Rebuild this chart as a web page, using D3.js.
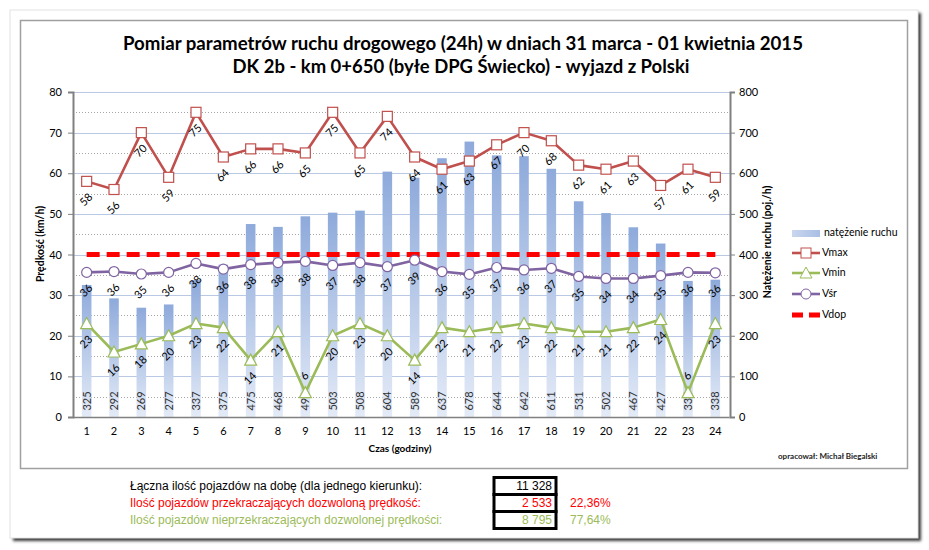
<!DOCTYPE html>
<html>
<head>
<meta charset="utf-8">
<script src="https://cdn.jsdelivr.net/npm/d3@7"></script>
<style>
  html, body { margin: 0; padding: 0; background: #ffffff; }
  svg { display: block; }
</style>
</head>
<body>
<svg id="chart" width="929" height="550"></svg>
<script>
// ---------- DATA ----------
const hours = [1,2,3,4,5,6,7,8,9,10,11,12,13,14,15,16,17,18,19,20,21,22,23,24];
const traffic = [325,292,269,277,337,375,475,468,494,503,508,604,589,637,678,644,642,611,531,502,467,427,335,338];
const vmax = [58,56,70,59,75,64,66,66,65,75,65,74,64,61,63,67,70,68,62,61,63,57,61,59];
const vmin = [23,16,18,20,23,22,14,21,6,20,23,20,14,22,21,22,23,22,21,21,22,24,6,23];
const vsr = [35.6,35.8,35.2,35.6,37.8,36.4,37.5,38.0,38.3,37.3,38.0,37.0,38.6,35.8,35.1,36.8,36.2,36.6,34.6,34.1,34.1,34.8,35.6,35.5];
const vsrLabels = [36,36,35,36,38,36,38,38,38,37,38,37,39,36,35,37,36,37,35,34,34,35,36,36];
const vdop = hours.map(() => 40);
const leftTicks = [0,10,20,30,40,50,60,70,80];
const rightTicks = [0,100,200,300,400,500,600,700,800];
const titleLines = ["Pomiar parametrów ruchu drogowego (24h) w dniach 31 marca - 01 kwietnia 2015",
                    "DK 2b - km 0+650 (byłe DPG Świecko) - wyjazd z Polski"];
const legendLabels = ["natężenie ruchu","Vmax","Vmin","Vśr","Vdop"];
const summaryLabels = ["Łączna ilość pojazdów na dobę (dla jednego kierunku):",
                       "Ilość pojazdów przekraczających dozwoloną prędkość:",
                       "Ilość pojazdów nieprzekraczających dozwolonej prędkości:"];
const summaryValues = ["11 328","2 533","8 795"];
const summaryPercents = ["","22,36%","77,64%"];

// ---------- STYLE ----------
const FONT = "Lato, 'Open Sans', sans-serif";
const C_MAX = "#c0504d", C_MIN = "#9bbb59", C_SR = "#8064a2", C_DOP = "#ff0000";

const svg = d3.select("#chart");
const defs = svg.append("defs");
const grad = defs.append("linearGradient").attr("id","barGrad").attr("x1",0).attr("y1",0).attr("x2",0).attr("y2",1);
grad.append("stop").attr("offset","0%").attr("stop-color","#8eaadb");
grad.append("stop").attr("offset","100%").attr("stop-color","#e4ebf7");
const gradL = defs.append("linearGradient").attr("id","legGrad").attr("x1",0).attr("y1",0).attr("x2",1).attr("y2",0);
gradL.append("stop").attr("offset","0%").attr("stop-color","#c9d6ee");
gradL.append("stop").attr("offset","100%").attr("stop-color","#a9bfe4");
const blur = defs.append("filter").attr("id","shadow").attr("x","-5%").attr("y","-5%").attr("width","110%").attr("height","110%");
blur.append("feGaussianBlur").attr("stdDeviation",1.5);

// outer panel
svg.append("rect").attr("x",13).attr("y",13).attr("width",908).attr("height",528).attr("fill","#3a3a3a").attr("filter","url(#shadow)");
svg.append("rect").attr("x",10).attr("y",10).attr("width",908).attr("height",528).attr("fill","#fff").attr("stroke","#e2e2e2");
// inner chart border
svg.append("rect").attr("x",20.5).attr("y",20.5).attr("width",887).attr("height",448).attr("fill","#fff").attr("stroke","#a0a0a0").attr("stroke-width",1.5);

// ---------- SCALES ----------
const plotL = 73, plotR = 729, plotT = 92, plotB = 417;
const x = d3.scaleBand().domain(hours).range([plotL, plotR]).padding(0);
const cx = d => x(d) + x.bandwidth()/2;
const y = d3.scaleLinear().domain([0,80]).range([plotB, plotT]);
const y2 = d3.scaleLinear().domain([0,800]).range([plotB, plotT]);

// gridlines
const minor = d3.range(5, 80, 10);
svg.append("g").selectAll("line").data(minor).join("line")
  .attr("x1",plotL).attr("x2",plotR+1).attr("y1",d=>Math.round(y(d))+0.5).attr("y2",d=>Math.round(y(d))+0.5)
  .attr("stroke","#a6a6a6").attr("stroke-dasharray","1,2");
svg.append("g").selectAll("line").data(leftTicks.slice(1)).join("line")
  .attr("x1",plotL).attr("x2",plotR+1).attr("y1",d=>Math.round(y(d))+0.5).attr("y2",d=>Math.round(y(d))+0.5)
  .attr("stroke","#b9c9e5").attr("stroke-width",1.2);

// ---------- BARS ----------
const bw = x.bandwidth()*0.35;
svg.append("g").selectAll("rect").data(traffic).join("rect")
  .attr("x",(d,i)=>cx(hours[i]) - bw/2).attr("width",bw)
  .attr("y",d=>y2(d)).attr("height",d=>plotB - y2(d))
  .attr("fill","url(#barGrad)");

// axes
const axL = svg.append("g").attr("transform",`translate(${plotL},0)`)
  .call(d3.axisLeft(y).tickValues(leftTicks).tickSize(5).tickPadding(6));
const axR = svg.append("g").attr("transform",`translate(${plotR+1},0)`)
  .call(d3.axisRight(y2).tickValues(rightTicks).tickSize(5).tickPadding(4));
const axB = svg.append("g").attr("transform",`translate(0,${plotB})`)
  .call(d3.axisBottom(x).tickSize(0).tickPadding(10));
[axL, axR, axB].forEach(a => {
  a.select(".domain").attr("stroke","#808080").attr("stroke-width",2);
  a.selectAll(".tick line").attr("stroke","#808080").attr("stroke-width",1);
  a.selectAll("text").attr("font-family",FONT).attr("font-size",11).attr("fill","#000");
});
axB.select(".domain").attr("stroke-width",1.5);

// bar labels
svg.append("g").selectAll("text").data(traffic).join("text")
  .attr("transform",(d,i)=>`translate(${cx(hours[i])+4},${401}) rotate(-90)`)
  .attr("text-anchor","middle").attr("font-family",FONT).attr("font-size",11).attr("fill","#333")
  .text(d=>d);

// ---------- Vdop ----------
svg.append("path").datum(vdop)
  .attr("d", d3.line().x((d,i)=>cx(hours[i])).y(d=>y(d)))
  .attr("fill","none").attr("stroke",C_DOP).attr("stroke-width",5).attr("stroke-dasharray","13,7");

// ---------- LINES ----------
function drawSeries(vals, color, marker, labels) {
  svg.append("path").datum(vals)
    .attr("d", d3.line().x((d,i)=>cx(hours[i])).y(d=>y(d)))
    .attr("fill","none").attr("stroke",color).attr("stroke-width",2.6).attr("stroke-linejoin","round");
  const g = svg.append("g");
  vals.forEach((v,i) => {
    const px = cx(hours[i]), py = y(v);
    if (marker === "square") {
      g.append("rect").attr("x",px-5).attr("y",py-5).attr("width",10).attr("height",10)
        .attr("fill","#fff").attr("stroke",color).attr("stroke-width",1.2);
    } else if (marker === "triangle") {
      g.append("path").attr("d",`M${px},${py-6}L${px+6},${py+5}L${px-6},${py+5}Z`)
        .attr("fill","#fff").attr("stroke",color).attr("stroke-width",1.2);
    } else {
      g.append("circle").attr("cx",px).attr("cy",py).attr("r",5)
        .attr("fill","#fff").attr("stroke",color).attr("stroke-width",1.2);
    }
  });
  svg.append("g").selectAll("text").data(vals).join("text")
    .attr("transform",(d,i)=>`translate(${cx(hours[i])},${y(d) + (d < 10 ? -16 : 19)}) rotate(-45)`)
    .attr("text-anchor","middle").attr("dominant-baseline","middle")
    .attr("font-family",FONT).attr("font-size",11).attr("fill","#000")
    .text((d,i)=>labels ? labels[i] : d);
}
drawSeries(vmax, C_MAX, "square");
drawSeries(vmin, C_MIN, "triangle");
drawSeries(vsr, C_SR, "circle", vsrLabels);

// ---------- TITLES ----------
svg.append("text").attr("x",463).attr("y",50).attr("text-anchor","middle")
  .attr("font-family",FONT).attr("font-weight","bold").attr("font-size",18)
  .attr("textLength",680).attr("lengthAdjust","spacingAndGlyphs").text(titleLines[0]);
svg.append("text").attr("x",461).attr("y",73).attr("text-anchor","middle")
  .attr("font-family",FONT).attr("font-weight","bold").attr("font-size",18)
  .attr("textLength",457).attr("lengthAdjust","spacingAndGlyphs").text(titleLines[1]);

svg.append("text").attr("transform","translate(44,244) rotate(-90)").attr("text-anchor","middle")
  .attr("font-family",FONT).attr("font-weight","bold").attr("font-size",10.5).text("Prędkość (km/h)");
svg.append("text").attr("transform","translate(771,242) rotate(-90)").attr("text-anchor","middle")
  .attr("font-family",FONT).attr("font-weight","bold").attr("font-size",10.5).text("Natężenie ruchu (poj./h)");
svg.append("text").attr("x",400).attr("y",452).attr("text-anchor","middle")
  .attr("font-family",FONT).attr("font-weight","bold").attr("font-size",10).text("Czas (godziny)");
svg.append("text").attr("x",778).attr("y",459)
  .attr("font-family",FONT).attr("font-weight","bold").attr("font-size",8).attr("fill","#222").text("opracował: Michał Biegalski");

// ---------- LEGEND ----------
const legY = [233,253,273,294,315];
const lg = svg.append("g");
lg.append("rect").attr("x",792).attr("y",legY[0]-3).attr("width",28).attr("height",7).attr("fill","url(#legGrad)");
[[C_MAX,"square"],[C_MIN,"triangle"],[C_SR,"circle"]].forEach(([c,m],k)=>{
  const yy = legY[k+1];
  lg.append("line").attr("x1",792).attr("x2",820).attr("y1",yy).attr("y2",yy).attr("stroke",c).attr("stroke-width",2.6);
  if (m==="square") lg.append("rect").attr("x",801).attr("y",yy-5).attr("width",10).attr("height",10).attr("fill","#fff").attr("stroke",c);
  else if (m==="triangle") lg.append("path").attr("d",`M806,${yy-6}L812,${yy+5}L800,${yy+5}Z`).attr("fill","#fff").attr("stroke",c);
  else lg.append("circle").attr("cx",806).attr("cy",yy).attr("r",5).attr("fill","#fff").attr("stroke",c);
});
lg.append("line").attr("x1",792).attr("x2",820).attr("y1",legY[4]).attr("y2",legY[4])
  .attr("stroke",C_DOP).attr("stroke-width",5).attr("stroke-dasharray","11,6");
lg.selectAll("text").data(legendLabels).join("text")
  .attr("x",(d,i)=> i===0 ? 824 : 822).attr("y",(d,i)=>legY[i]).attr("dominant-baseline","middle")
  .attr("font-family",FONT).attr("font-size",10.5).attr("fill","#000").text(d=>d);

// ---------- SUMMARY TABLE ----------
const rowY = [486,503,520];
const rowColors = ["#000","#ff0000", C_MIN];
const TF = "'Liberation Sans', Arial, sans-serif";
const tg = svg.append("g");
summaryLabels.forEach((t,i)=>{
  tg.append("text").attr("x",130).attr("y",rowY[i]+4).attr("font-family",TF).attr("font-size",12)
    .attr("fill",rowColors[i]).text(t);
  tg.append("rect").attr("x",494).attr("y",rowY[i]-8.5).attr("width",62).attr("height",17)
    .attr("fill","none").attr("stroke","#000").attr("stroke-width",3);
  tg.append("text").attr("x",552).attr("y",rowY[i]+4).attr("text-anchor","end").attr("font-family",TF).attr("font-size",12)
    .attr("fill",rowColors[i]).text(summaryValues[i]);
  tg.append("text").attr("x",570).attr("y",rowY[i]+4).attr("font-family",TF).attr("font-size",12)
    .attr("fill",rowColors[i]).text(summaryPercents[i]);
});
</script>
</body>
</html>
